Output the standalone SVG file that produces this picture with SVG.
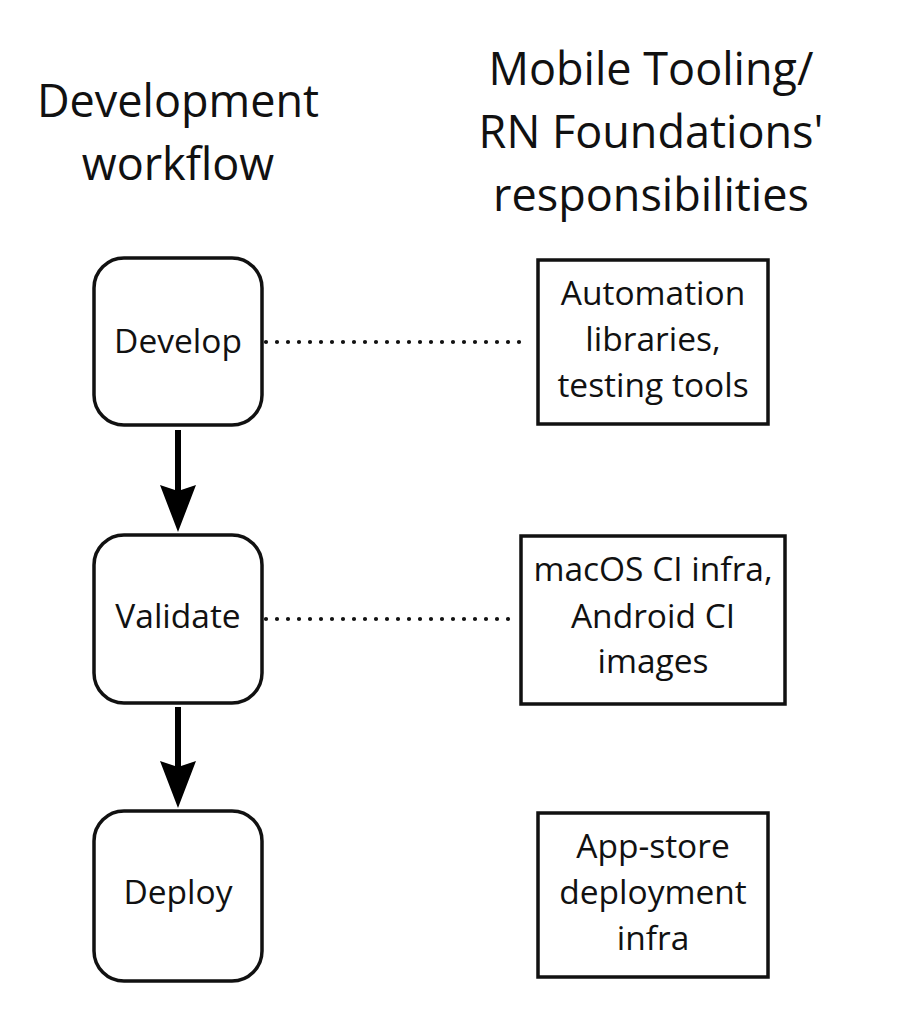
<svg xmlns="http://www.w3.org/2000/svg" width="901" height="1024" viewBox="0 0 901 1024">
  <style>
    .bg { fill: #ffffff; }
    .step { fill: #ffffff; stroke: #111111; stroke-width: 3.5; }
    .resp { fill: #ffffff; stroke: #111111; stroke-width: 3.5; }
    .head { font-family: "Open Sans", "Noto Sans", sans-serif; font-size: 45px; fill: #111111; text-anchor: middle; }
    .label { font-family: "Open Sans", "Noto Sans", sans-serif; font-size: 33.5px; fill: #111111; text-anchor: middle; }
    .flow { stroke: #000000; stroke-width: 6; fill: none; }
    .tip { fill: #000000; }
    .link { stroke: #111111; stroke-width: 4.2; stroke-dasharray: 0 11; stroke-linecap: round; fill: none; }
  </style>
  <rect class="bg" x="0" y="0" width="901" height="1024"/>

  <!-- column headings -->
  <g id="heading-left">
    <text class="head" x="178" y="117">Development</text>
    <text class="head" x="178" y="180">workflow</text>
  </g>
  <g id="heading-right">
    <text class="head" x="651" y="85">Mobile Tooling/</text>
    <text class="head" x="651" y="148">RN Foundations'</text>
    <text class="head" x="651" y="211">responsibilities</text>
  </g>

  <!-- connectors -->
  <g id="connectors">
    <line class="flow" x1="178" y1="430" x2="178" y2="492"/>
    <path class="tip" d="M160,485 L178,491 L196,485 L178,532 Z"/>
    <line class="flow" x1="178" y1="707" x2="178" y2="768"/>
    <path class="tip" d="M160,761 L178,767 L196,761 L178,808 Z"/>
    <line class="link" x1="266" y1="342" x2="530" y2="342"/>
    <line class="link" x1="266" y1="619" x2="519" y2="619"/>
  </g>

  <!-- workflow steps -->
  <g id="develop">
    <rect class="step" x="94" y="258" width="168" height="167" rx="30" ry="30"/>
    <text class="label" x="178" y="353">Develop</text>
  </g>
  <g id="validate">
    <rect class="step" x="94" y="535" width="168" height="168" rx="30" ry="30"/>
    <text class="label" x="178" y="628">Validate</text>
  </g>
  <g id="deploy">
    <rect class="step" x="94" y="811" width="168" height="170" rx="30" ry="30"/>
    <text class="label" x="178" y="904">Deploy</text>
  </g>

  <!-- responsibilities -->
  <g id="automation">
    <rect class="resp" x="538" y="260" width="230" height="164"/>
    <text class="label" x="653" y="305">Automation</text>
    <text class="label" x="653" y="351">libraries,</text>
    <text class="label" x="653" y="397">testing tools</text>
  </g>
  <g id="ci-infra">
    <rect class="resp" x="521" y="536" width="264" height="168"/>
    <text class="label" x="653" y="581">macOS CI infra,</text>
    <text class="label" x="653" y="628">Android CI</text>
    <text class="label" x="653" y="673">images</text>
  </g>
  <g id="app-store">
    <rect class="resp" x="538" y="813" width="230" height="164"/>
    <text class="label" x="653" y="858">App-store</text>
    <text class="label" x="653" y="904">deployment</text>
    <text class="label" x="653" y="950">infra</text>
  </g>
</svg>
